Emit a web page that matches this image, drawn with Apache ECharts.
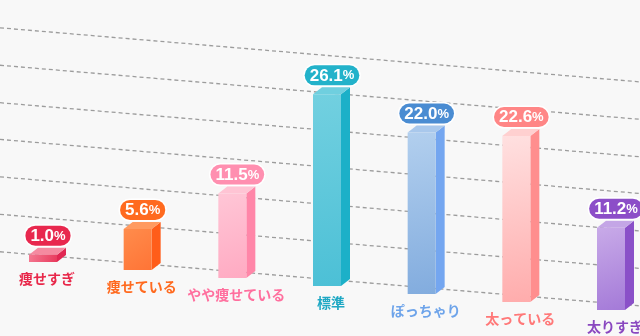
<!DOCTYPE html>
<html>
<head>
<meta charset="utf-8">
<style>
  html, body { margin: 0; padding: 0; background: #f8f8f8; }
  #main-chart { width: 640px; height: 336px; }
</style>
<script src="https://cdn.jsdelivr.net/npm/echarts@6/dist/echarts.min.js"></script>
</head>
<body>
<div id="main-chart"></div>
<script>
const categories = ["痩せすぎ", "痩せている", "やや痩せている", "標準", "ぽっちゃり", "太っている", "太りすぎ"];
const values = [1.0, 5.6, 11.5, 26.1, 22.0, 22.6, 11.2];
// dashed guide lines, in % units measured at the first bar
const gridLevels = [0.9, 6.0, 11.1, 16.2, 21.2, 26.3, 31.4];

// colours per bar: badge/text, front light, front dark, side, top
const palette = [
  { badge: "#e8284e", text: "#e8284a", front1: "#f47a92", front2: "#e8395c", side: "#e02752", top: "#f58aa0" },
  { badge: "#ff6a1f", text: "#ff6a1f", front1: "#ff8c4c", front2: "#ff7436", side: "#ff5d1a", top: "#ff9a60" },
  { badge: "#ff8fb0", text: "#ff6f9e", front1: "#ffc6d6", front2: "#ffaac2", side: "#ff86a8", top: "#ffc4d4" },
  { badge: "#22b2ca", text: "#1fa8c4", front1: "#72d0e0", front2: "#4cc0d6", side: "#1cb0c8", top: "#6fcfdf" },
  { badge: "#4a8cd2", text: "#6ea4ea", front1: "#b2cfee", front2: "#82acde", side: "#74a6f0", top: "#a9c8ec" },
  { badge: "#ff8686", text: "#ff7878", front1: "#ffe0e0", front2: "#ffacac", side: "#ff8e8e", top: "#ffd0d0" },
  { badge: "#8c4ec8", text: "#8a48c0", front1: "#c8aae8", front2: "#a47ad8", side: "#8a50c8", top: "#c4a6e6" }
];

const SLANT = 0.0845;   // perspective slope of the floor
const BAR_W = 28;
const DEPTH_X = 9;
const DEPTH_Y = 7;

const labelFont = '"Noto Sans CJK JP", "Noto Sans", sans-serif';
const numFont = '"Liberation Sans", Arial, sans-serif';

function renderGuide(params, api) {
  const gx = params.coordSys.x;
  const y0 = api.coord([0, api.value(1)])[1];
  return {
    type: "line",
    shape: { x1: 0, y1: y0 - gx * SLANT, x2: 640, y2: y0 + (640 - gx) * SLANT },
    style: { stroke: "#9c9c9c", lineWidth: 1.3, lineDash: [4, 3] },
    silent: true
  };
}

function renderBar(params, api) {
  const i = api.value(0);
  const v = api.value(1);
  const c = palette[i];
  const base = api.coord([i, 0]);
  const top = api.coord([i, v]);
  const off = (base[0] - params.coordSys.x) * SLANT;
  const cx = base[0];
  const yb = base[1] + off;
  const yt = top[1] + off;
  const x1 = cx - BAR_W / 2;
  const x2 = cx + BAR_W / 2;

  return {
    type: "group",
    children: [
      {
        type: "polygon",
        shape: { points: [[x2, yt], [x2 + DEPTH_X, yt - DEPTH_Y], [x2 + DEPTH_X, yb - DEPTH_Y], [x2, yb]] },
        style: { fill: c.side }
      },
      {
        type: "polygon",
        shape: { points: [[x1, yt], [x1 + DEPTH_X, yt - DEPTH_Y], [x2 + DEPTH_X, yt - DEPTH_Y], [x2, yt]] },
        style: { fill: c.top }
      },
      {
        type: "rect",
        shape: { x: x1, y: yt, width: BAR_W, height: yb - yt },
        style: {
          fill: new echarts.graphic.LinearGradient(0, 0, 1, 1, [
            { offset: 0, color: c.front1 },
            { offset: 1, color: c.front2 }
          ])
        }
      },
      {
        type: "text",
        x: cx + 5,
        y: yt - 19,
        style: {
          text: "{n|" + v.toFixed(1) + "}{p|%}",
          align: "center",
          verticalAlign: "middle",
          backgroundColor: c.badge,
          borderColor: "#ffffff",
          borderWidth: 1.5,
          borderRadius: 10,
          padding: [2, 5, 1, 5],
          rich: {
            n: { fill: "#fff", fontSize: 17, fontWeight: "bold", fontFamily: numFont },
            p: { fill: "#fff", fontSize: 13, fontWeight: "bold", fontFamily: numFont }
          }
        }
      },
      {
        type: "text",
        x: cx + 4,
        y: yb + 17,
        style: {
          text: categories[i],
          align: "center",
          verticalAlign: "middle",
          fill: c.text,
          fontSize: 14,
          fontWeight: "bold",
          fontFamily: labelFont
        }
      }
    ]
  };
}

const chart = echarts.init(document.getElementById("main-chart"));

chart.setOption({
  backgroundColor: "#f8f8f8",
  animation: false,
  grid: { left: 43, right: 29, top: 5, bottom: 74 },
  xAxis: {
    type: "category",
    data: categories,
    boundaryGap: false,
    show: false
  },
  yAxis: {
    type: "value",
    min: 0,
    max: 35,
    show: false
  },
  series: [
    {
      type: "custom",
      renderItem: renderGuide,
      data: gridLevels.map((g) => [0, g]),
      clip: false,
      silent: true,
      z: 1
    },
    {
      type: "custom",
      renderItem: renderBar,
      data: values.map((v, i) => [i, v]),
      encode: { x: 0, y: 1 },
      clip: false,
      z: 2
    }
  ]
});

window.addEventListener("resize", () => {
  chart.resize();
});
</script>
</body>
</html>
